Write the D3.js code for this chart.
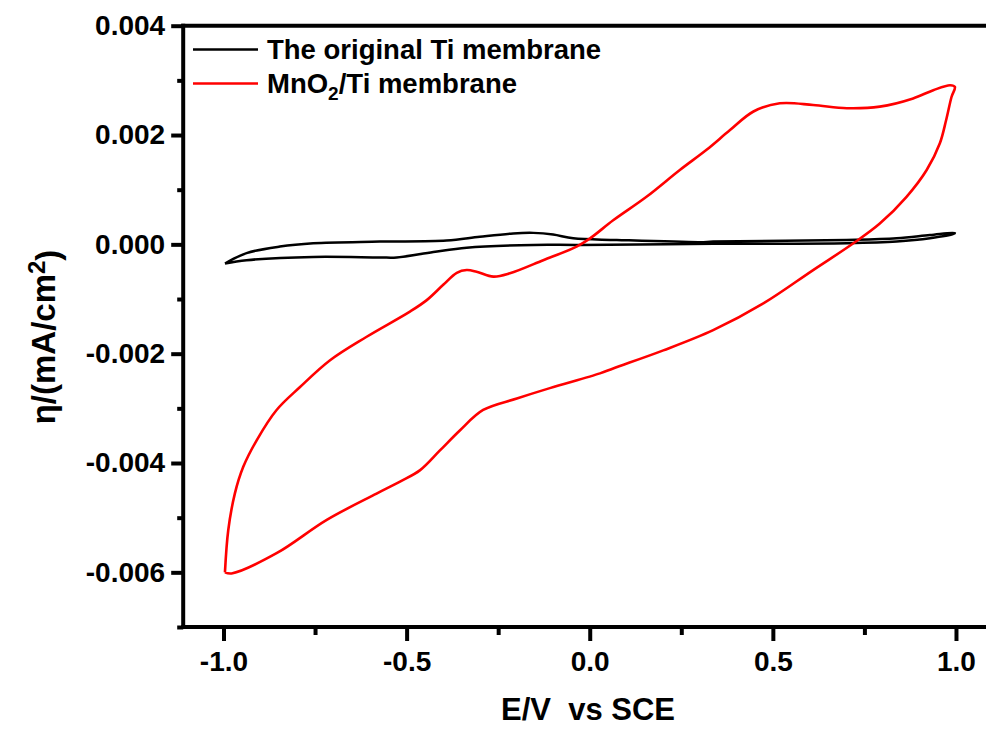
<!DOCTYPE html>
<html>
<head>
<meta charset="utf-8">
<script src="https://cdn.jsdelivr.net/npm/d3@7"></script>
<style>
  html, body { margin: 0; padding: 0; background: #fff; }
  svg { display: block; }
  text { font-family: "Liberation Sans", Arial, sans-serif; font-weight: bold; fill: #000; }
</style>
</head>
<body>
<svg id="chart" width="986" height="729"></svg>
<script>
// ---------- data ----------
const seriesNames = ["The original Ti membrane", "MnO2/Ti membrane"];
const seriesColors = ["#000000", "#ff0000"];

// Original Ti membrane CV loop (E in V, current)
const tiE = [-0.996, -0.937, -0.846, -0.755, -0.573, -0.391, -0.300, -0.209, -0.154, -0.100, -0.045, 0.074, 0.301, 0.337, 0.702, 0.838, 0.929, 0.997,
             0.993, 0.929, 0.838, 0.702, 0.337, -0.027, -0.154, -0.336, -0.427, -0.527, -0.573, -0.755, -0.937, -0.996];
const tiI = [-0.00035, -0.00016, -0.00004, 0.00002, 0.00005, 0.00007, 0.00014, 0.00020, 0.00021, 0.00018, 0.00011, 0.00008, 0.00004, 0.00005, 0.00008, 0.00011, 0.00017, 0.00021,
             0.00019, 0.00011, 0.00005, 0.00002, 0.00001, -0.00001, -0.00001, -0.00006, -0.00014, -0.00024, -0.00024, -0.00023, -0.00029, -0.00035];

// MnO2/Ti membrane CV loop
const mnE = [-0.996, -0.987, -0.969, -0.946, -0.909, -0.855, -0.791, -0.709, -0.609, -0.491, -0.445, -0.400, -0.363, -0.336, -0.309, -0.263, -0.218, -0.127, -0.036, 0.001,
             0.064, 0.155, 0.246, 0.319, 0.383, 0.447, 0.519, 0.610, 0.702, 0.792, 0.883, 0.938, 0.984, 0.997,
             0.988, 0.973, 0.956, 0.920, 0.865, 0.792, 0.720, 0.610, 0.474, 0.337, 0.201, 0.064, 0.028, -0.109, -0.199, -0.291,
             -0.354, -0.409, -0.463, -0.518, -0.582, -0.718, -0.855, -0.978, -0.996];
const mnI = [-0.00600, -0.00523, -0.00456, -0.00407, -0.00358, -0.00303, -0.00261, -0.00212, -0.00169, -0.00123, -0.00102, -0.00074, -0.00052, -0.00047, -0.00050, -0.00059, -0.00053, -0.00029, -0.00004, 0.00011,
             0.00044, 0.00087, 0.00136, 0.00173, 0.00209, 0.00243, 0.00258, 0.00255, 0.00249, 0.00252, 0.00267, 0.00282, 0.00291, 0.00288,
             0.00270, 0.00227, 0.00185, 0.00136, 0.00087, 0.00038, 0.00002, -0.00047, -0.00108, -0.00157, -0.00194, -0.00227, -0.00236, -0.00263, -0.00282, -0.00303,
             -0.00340, -0.00377, -0.00413, -0.00434, -0.00456, -0.00504, -0.00565, -0.00602, -0.00600];

const xTicks = [-1.0, -0.5, 0.0, 0.5, 1.0];
const xTickLabels = ["-1.0", "-0.5", "0.0", "0.5", "1.0"];
const xMinorTicks = [-0.75, -0.25, 0.25, 0.75];
const yTicks = [-0.006, -0.004, -0.002, 0.000, 0.002, 0.004];
const yTickLabels = ["-0.006", "-0.004", "-0.002", "0.000", "0.002", "0.004"];
const yMinorTicks = [-0.007, -0.005, -0.003, -0.001, 0.001, 0.003];

const xTitle = "E/V  vs SCE";

// ---------- layout ----------
const svg = d3.select("#chart");
const x = d3.scaleLinear().domain([-1.11, 1.1]).range([183.2, 992.6]);
const y = d3.scaleLinear().domain([-0.007, 0.004]).range([627, 25.7]);

const X0 = x.range()[0], X1 = x.range()[1], Y0 = y.range()[0], Y1 = y.range()[1];

// curves
const line = d3.line().x(d => x(d[0])).y(d => y(d[1])).curve(d3.curveCatmullRom.alpha(0.5));
const tiData = tiE.map((e, i) => [e, tiI[i]]);
const mnData = mnE.map((e, i) => [e, mnI[i]]);

svg.append("path").datum(tiData).attr("d", line)
  .attr("fill", "none").attr("stroke", seriesColors[0]).attr("stroke-width", 2.5).attr("stroke-linejoin", "round");
svg.append("path").datum(mnData).attr("d", line)
  .attr("fill", "none").attr("stroke", seriesColors[1]).attr("stroke-width", 2.6).attr("stroke-linejoin", "round");

// axes
const xAxis = d3.axisBottom(x).tickValues(xTicks).tickSize(14).tickSizeOuter(0)
  .tickFormat((d, i) => xTickLabels[i]).tickPadding(8);
const xMinor = d3.axisBottom(x).tickValues(xMinorTicks).tickSize(8).tickSizeOuter(0).tickFormat("");
const yAxis = d3.axisLeft(y).tickValues(yTicks).tickSize(12).tickSizeOuter(0)
  .tickFormat((d, i) => yTickLabels[i]).tickPadding(6);
const yMinor = d3.axisLeft(y).tickValues(yMinorTicks).tickSize(6).tickSizeOuter(0).tickFormat("");

function styleAxis(g) {
  g.select(".domain").remove();
  g.selectAll(".tick line").attr("stroke", "#000").attr("stroke-width", 4);
  g.selectAll(".tick text").style("font-size", "28px").style("font-family", "'Liberation Sans', Arial, sans-serif")
    .style("font-weight", "bold").attr("fill", "#000");
}

svg.append("g").attr("transform", `translate(0,${Y0})`).call(xAxis).call(styleAxis)
  .selectAll(".tick text").attr("dy", "0.78em");
svg.append("g").attr("transform", `translate(0,${Y0})`).call(xMinor).call(styleAxis);
svg.append("g").attr("transform", `translate(${X0},0)`).call(yAxis).call(styleAxis);
svg.append("g").attr("transform", `translate(${X0},0)`).call(yMinor).call(styleAxis);

// frame (left, bottom, top; right lies beyond the picture)
const frame = svg.append("g").attr("stroke", "#000").attr("stroke-width", 4).attr("stroke-linecap", "square");
frame.append("line").attr("x1", X0).attr("x2", X0).attr("y1", Y1).attr("y2", Y0);
frame.append("line").attr("x1", X0).attr("x2", X1).attr("y1", Y0).attr("y2", Y0);
frame.append("line").attr("x1", X0).attr("x2", X1).attr("y1", Y1).attr("y2", Y1);
frame.append("line").attr("x1", X1).attr("x2", X1).attr("y1", Y1).attr("y2", Y0);

// axis titles
svg.append("text").attr("x", 588).attr("y", 720).attr("text-anchor", "middle")
  .style("font-size", "31px").style("white-space", "pre").text(xTitle);

const yt = svg.append("text").attr("text-anchor", "middle")
  .attr("transform", "translate(55,337) rotate(-90)").style("font-size", "33px");
yt.append("tspan").text("\u03b7/(mA/cm");
yt.append("tspan").attr("dy", "-0.4em").style("font-size", "24px").text("2");
yt.append("tspan").attr("dy", "0.4em").text(")");

// legend
const lg = svg.append("g");
const legY = [49.5, 83.5];
lg.append("line").attr("x1", 193).attr("x2", 258).attr("y1", legY[0]).attr("y2", legY[0])
  .attr("stroke", seriesColors[0]).attr("stroke-width", 2.5);
lg.append("line").attr("x1", 193).attr("x2", 258).attr("y1", legY[1]).attr("y2", legY[1])
  .attr("stroke", seriesColors[1]).attr("stroke-width", 2.5);
lg.append("text").attr("x", 267).attr("y", legY[0] + 9.5).style("font-size", "27.5px").text(seriesNames[0]);
const t2 = lg.append("text").attr("x", 267).attr("y", legY[1] + 9.5).style("font-size", "27.5px");
t2.append("tspan").text("MnO");
t2.append("tspan").attr("dy", "7").style("font-size", "19px").text("2");
t2.append("tspan").attr("dy", "-7").text("/Ti membrane");
</script>
</body>
</html>
